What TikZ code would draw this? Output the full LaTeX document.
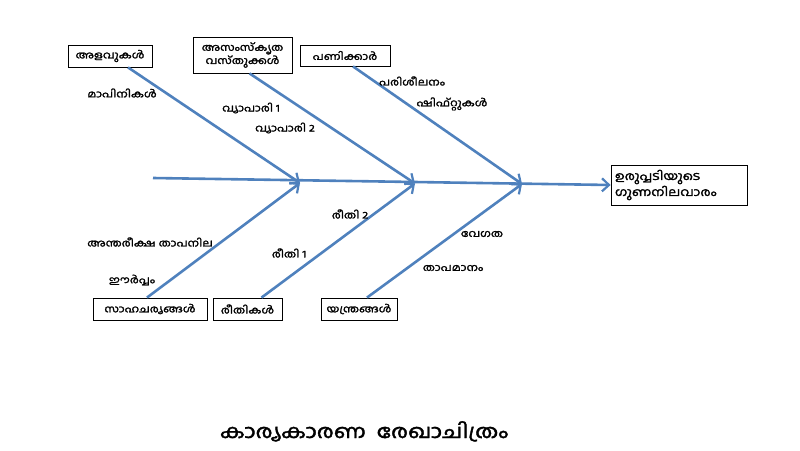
\documentclass[tikz,border=0pt]{standalone}
\usepackage{fontspec}
\newfontfamily\ml[Script=Malayalam,FakeBold=2,FakeStretch=1.2]{Hind Kochi}
\usetikzlibrary{arrows.meta,calc}
\definecolor{bone}{HTML}{4F81BD}
\tikzset{
  cat/.style={draw=black,line width=0.8pt,fill=white,inner sep=0pt,align=center,font=\ml\fontsize{10}{11}\selectfont},
  lbl/.style={inner sep=0pt,font=\ml\fontsize{10}{11}\selectfont},
  bonel/.style={draw=bone,line width=2.6pt,-{Straight Barb[length=7pt,width=13pt,line width=2.2pt]}},
}
\begin{document}
\begin{tikzpicture}[x=1pt,y=-1pt]
\useasboundingbox (0,0) rectangle (800,450);
% category boxes
\node[cat,minimum width=84pt,minimum height=22pt] (m1) at (110,56) {അളവുകൾ};
\node[cat,minimum width=99pt,minimum height=36pt,font=\ml\fontsize{10}{10.5}\selectfont] (m2) at (242.5,55) {അസംസ്കൃത\\വസ്തുക്കൾ};
\node[cat,minimum width=90pt,minimum height=21pt] (m3) at (345,55.5) {പണിക്കാർ};
\node[cat,minimum width=114pt,minimum height=22pt] (b1) at (150,309) {സാഹചര്യങ്ങൾ};
\node[cat,minimum width=69pt,minimum height=22pt] (b2) at (247.5,309) {രീതികൾ};
\node[cat,minimum width=76pt,minimum height=22pt] (b3) at (359,309) {യന്ത്രങ്ങൾ};
\node[cat,minimum width=136pt,minimum height=40pt,align=left,text width=128pt,font=\ml\fontsize{11.5}{16}\selectfont] (eff) at (679,185) {ഉരുപ്പടിയുടെ\\ഗുണനിലവാരം};
% junctions
\coordinate (s0) at (153,178);
\coordinate (j1) at (300,183);
\coordinate (j2) at (415,183.5);
\coordinate (j3) at (522,184);
% spine
\draw[bonel] (s0) -- (eff.west);
% bones
\draw[bonel] ($(m1.south)+(18,0)$) -- (j1);
\draw[bonel] ($(m2.south)+(7,0)$) -- (j2);
\draw[bonel] ($(m3.south)+(8,0)$) -- (j3);
\draw[bonel] ($(b1.north)+(-3,0)$) -- (j1);
\draw[bonel] ($(b2.north)+(14,0)$) -- (j2);
\draw[bonel] ($(b3.north)+(8,0)$) -- (j3);
% sub-cause labels
\node[lbl] (l1) at (122,93) {മാപിനികൾ};
\node[lbl] (l2) at (251,108) {വ്യാപാരി 1};
\node[lbl] (l3) at (285,128) {വ്യാപാരി 2};
\node[lbl] (l4) at (412,81) {പരിശീലനം};
\node[lbl] (l5) at (452,104) {ഷിഫ്റ്റുകൾ};
\node[lbl] (l6) at (350,214) {രീതി 2};
\node[lbl] (l7) at (289,253) {രീതി 1};
\node[lbl] (l8) at (150,242) {അന്തരീക്ഷ താപനില};
\node[lbl] (l9) at (132,280) {ഈർപ്പം};
\node[lbl] (l10) at (482,234) {വേഗത};
\node[lbl] (l11) at (453,268) {താപമാനം};
% title
\node[inner sep=0pt,anchor=base,font=\ml\fontsize{19}{20}\selectfont] (title) at (364,438) {കാര്യകാരണ \ രേഖാചിത്രം};
\end{tikzpicture}
\end{document}
